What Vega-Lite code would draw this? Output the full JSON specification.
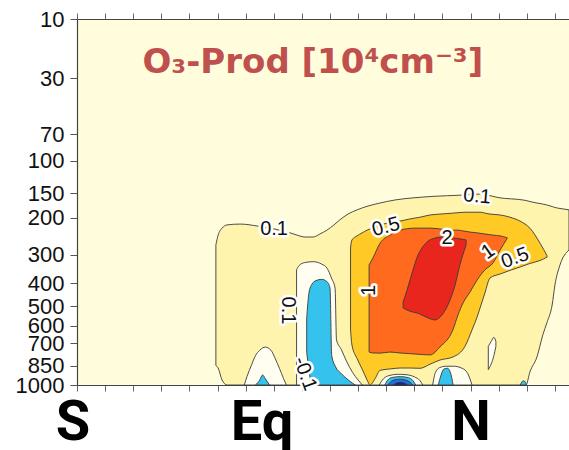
{
  "$schema": "https://vega.github.io/schema/vega-lite/v6.json",
  "width": 492,
  "height": 366,
  "autosize": {"type": "none"},
  "padding": {"left": 77, "top": 19, "right": 0, "bottom": 65},
  "background": "#ffffff",
  "config": {"view": {"stroke": null, "fill": "#FFFDDC"}, "axis": {"grid": false}},
  "datasets": {
    "areas": [
      {"reg": "L1", "lat": -40.6, "top": 270, "bot": 850},
      {"reg": "L1", "lat": -39.8, "top": 243, "bot": 868},
      {"reg": "L1", "lat": -38.4, "top": 225, "bot": 960},
      {"reg": "L1", "lat": -36.6, "top": 217, "bot": 1000},
      {"reg": "L1", "lat": -32, "top": 215, "bot": 1000},
      {"reg": "L1", "lat": -25.6, "top": 220, "bot": 1000},
      {"reg": "L1", "lat": -19.9, "top": 227, "bot": 1000},
      {"reg": "L1", "lat": -14.2, "top": 237, "bot": 1000},
      {"reg": "L1", "lat": -11.7, "top": 243, "bot": 1000},
      {"reg": "L1", "lat": -8.9, "top": 248, "bot": 1000},
      {"reg": "L1", "lat": -6.1, "top": 248, "bot": 1000},
      {"reg": "L1", "lat": -3.6, "top": 240, "bot": 1000},
      {"reg": "L1", "lat": -1.1, "top": 230, "bot": 1000},
      {"reg": "L1", "lat": 1.4, "top": 217, "bot": 1000},
      {"reg": "L1", "lat": 3.5, "top": 205, "bot": 1000},
      {"reg": "L1", "lat": 6.4, "top": 192, "bot": 1000},
      {"reg": "L1", "lat": 9.6, "top": 183, "bot": 1000},
      {"reg": "L1", "lat": 13.5, "top": 175, "bot": 1000},
      {"reg": "L1", "lat": 17.8, "top": 169, "bot": 1000},
      {"reg": "L1", "lat": 23.1, "top": 163, "bot": 1000},
      {"reg": "L1", "lat": 29.5, "top": 159, "bot": 1000},
      {"reg": "L1", "lat": 37.3, "top": 156, "bot": 1000},
      {"reg": "L1", "lat": 46.2, "top": 154, "bot": 1000},
      {"reg": "L1", "lat": 53.3, "top": 152, "bot": 1000},
      {"reg": "L1", "lat": 60.5, "top": 159, "bot": 1000},
      {"reg": "L1", "lat": 68.6, "top": 163, "bot": 1000},
      {"reg": "L1", "lat": 69.7, "top": 164, "bot": 1000},
      {"reg": "L1", "lat": 71.1, "top": 166, "bot": 897},
      {"reg": "L1", "lat": 73.6, "top": 169, "bot": 790},
      {"reg": "L1", "lat": 75.7, "top": 171, "bot": 650},
      {"reg": "L1", "lat": 77.2, "top": 173, "bot": 580},
      {"reg": "L1", "lat": 79, "top": 176, "bot": 494},
      {"reg": "L1", "lat": 80, "top": 178, "bot": 407},
      {"reg": "L1", "lat": 81.8, "top": 180, "bot": 333},
      {"reg": "L1", "lat": 85, "top": 183, "bot": 285},

      {"reg": "HA", "lat": -11.9, "top": 350, "bot": 1000},
      {"reg": "HA", "lat": -11, "top": 335, "bot": 1000},
      {"reg": "HA", "lat": -9, "top": 325, "bot": 1000},
      {"reg": "HA", "lat": -6, "top": 322, "bot": 1000},
      {"reg": "HA", "lat": -3, "top": 330, "bot": 1000},
      {"reg": "HA", "lat": -1, "top": 345, "bot": 1000},
      {"reg": "HA", "lat": 0.5, "top": 380, "bot": 1000},
      {"reg": "HA", "lat": 1.8, "top": 420, "bot": 1000},
      {"reg": "HA", "lat": 2.3, "top": 680, "bot": 1000},
      {"reg": "HA", "lat": 4, "top": 740, "bot": 1000},
      {"reg": "HA", "lat": 6, "top": 825, "bot": 1000},
      {"reg": "HA", "lat": 8, "top": 900, "bot": 1000},
      {"reg": "HA", "lat": 10, "top": 960, "bot": 1000},
      {"reg": "HA", "lat": 11.5, "top": 1000, "bot": 1000},

      {"reg": "CA", "lat": -8.3, "top": 560, "bot": 760},
      {"reg": "CA", "lat": -7.5, "top": 440, "bot": 880},
      {"reg": "CA", "lat": -6.5, "top": 405, "bot": 1000},
      {"reg": "CA", "lat": -5, "top": 390, "bot": 1000},
      {"reg": "CA", "lat": -3, "top": 385, "bot": 1000},
      {"reg": "CA", "lat": -1, "top": 395, "bot": 1000},
      {"reg": "CA", "lat": 0, "top": 420, "bot": 1000},
      {"reg": "CA", "lat": 0.6, "top": 780, "bot": 1000},
      {"reg": "CA", "lat": 2, "top": 860, "bot": 1000},
      {"reg": "CA", "lat": 4, "top": 910, "bot": 1000},
      {"reg": "CA", "lat": 6, "top": 950, "bot": 1000},
      {"reg": "CA", "lat": 8, "top": 985, "bot": 1000},
      {"reg": "CA", "lat": 9, "top": 1000, "bot": 1000},

      {"reg": "HB", "lat": -30.5, "top": 1000, "bot": 1000},
      {"reg": "HB", "lat": -29.5, "top": 930, "bot": 1000},
      {"reg": "HB", "lat": -28, "top": 850, "bot": 1000},
      {"reg": "HB", "lat": -26.5, "top": 780, "bot": 1000},
      {"reg": "HB", "lat": -25, "top": 745, "bot": 1000},
      {"reg": "HB", "lat": -23, "top": 725, "bot": 1000},
      {"reg": "HB", "lat": -21, "top": 745, "bot": 1000},
      {"reg": "HB", "lat": -19.5, "top": 800, "bot": 1000},
      {"reg": "HB", "lat": -18, "top": 870, "bot": 1000},
      {"reg": "HB", "lat": -16.5, "top": 950, "bot": 1000},
      {"reg": "HB", "lat": -15.5, "top": 1000, "bot": 1000},

      {"reg": "CB", "lat": -26.5, "top": 1000, "bot": 1000},
      {"reg": "CB", "lat": -25, "top": 960, "bot": 1000},
      {"reg": "CB", "lat": -24, "top": 920, "bot": 1000},
      {"reg": "CB", "lat": -23, "top": 950, "bot": 1000},
      {"reg": "CB", "lat": -21.5, "top": 1000, "bot": 1000},

      {"reg": "L2", "lat": 7.3, "top": 276, "bot": 622},
      {"reg": "L2", "lat": 7.8, "top": 256, "bot": 712},
      {"reg": "L2", "lat": 9.6, "top": 245, "bot": 800},
      {"reg": "L2", "lat": 11.4, "top": 237, "bot": 875},
      {"reg": "L2", "lat": 13.2, "top": 230, "bot": 960},
      {"reg": "L2", "lat": 14.2, "top": 227, "bot": 1000},
      {"reg": "L2", "lat": 16, "top": 222, "bot": 950},
      {"reg": "L2", "lat": 17.8, "top": 217, "bot": 885},
      {"reg": "L2", "lat": 21.3, "top": 212, "bot": 875},
      {"reg": "L2", "lat": 24.9, "top": 208, "bot": 868},
      {"reg": "L2", "lat": 28.4, "top": 203, "bot": 868},
      {"reg": "L2", "lat": 32, "top": 199, "bot": 870},
      {"reg": "L2", "lat": 35.6, "top": 194, "bot": 840},
      {"reg": "L2", "lat": 39.1, "top": 192, "bot": 811},
      {"reg": "L2", "lat": 43.7, "top": 190, "bot": 790},
      {"reg": "L2", "lat": 48, "top": 188, "bot": 720},
      {"reg": "L2", "lat": 50.5, "top": 188, "bot": 622},
      {"reg": "L2", "lat": 52.3, "top": 188, "bot": 553},
      {"reg": "L2", "lat": 53.7, "top": 188, "bot": 494},
      {"reg": "L2", "lat": 55.1, "top": 190, "bot": 440},
      {"reg": "L2", "lat": 56.9, "top": 192, "bot": 380},
      {"reg": "L2", "lat": 60.5, "top": 194, "bot": 365},
      {"reg": "L2", "lat": 64, "top": 199, "bot": 352},
      {"reg": "L2", "lat": 67.6, "top": 208, "bot": 340},
      {"reg": "L2", "lat": 71.1, "top": 225, "bot": 328},
      {"reg": "L2", "lat": 74.7, "top": 265, "bot": 318},
      {"reg": "L2", "lat": 77.2, "top": 303, "bot": 307},

      {"reg": "L3", "lat": 13.9, "top": 333, "bot": 757},
      {"reg": "L3", "lat": 15.3, "top": 309, "bot": 763},
      {"reg": "L3", "lat": 17.8, "top": 265, "bot": 764},
      {"reg": "L3", "lat": 21.3, "top": 243, "bot": 757},
      {"reg": "L3", "lat": 24.9, "top": 230, "bot": 763},
      {"reg": "L3", "lat": 30.2, "top": 225, "bot": 770},
      {"reg": "L3", "lat": 35.6, "top": 225, "bot": 776},
      {"reg": "L3", "lat": 39.1, "top": 227, "bot": 724},
      {"reg": "L3", "lat": 43.7, "top": 230, "bot": 622},
      {"reg": "L3", "lat": 45.5, "top": 230, "bot": 543},
      {"reg": "L3", "lat": 47.3, "top": 232, "bot": 485},
      {"reg": "L3", "lat": 49.8, "top": 235, "bot": 436},
      {"reg": "L3", "lat": 52.3, "top": 237, "bot": 388},
      {"reg": "L3", "lat": 55.1, "top": 240, "bot": 350},
      {"reg": "L3", "lat": 58, "top": 243, "bot": 326},
      {"reg": "L3", "lat": 60.5, "top": 245, "bot": 285},
      {"reg": "L3", "lat": 63, "top": 250, "bot": 252},

      {"reg": "L4", "lat": 26, "top": 480, "bot": 508},
      {"reg": "L4", "lat": 27.4, "top": 428, "bot": 518},
      {"reg": "L4", "lat": 29.5, "top": 351, "bot": 528},
      {"reg": "L4", "lat": 31, "top": 307, "bot": 533},
      {"reg": "L4", "lat": 32.7, "top": 279, "bot": 543},
      {"reg": "L4", "lat": 34.9, "top": 259, "bot": 558},
      {"reg": "L4", "lat": 37.3, "top": 251, "bot": 568},
      {"reg": "L4", "lat": 39.8, "top": 248, "bot": 543},
      {"reg": "L4", "lat": 42.7, "top": 251, "bot": 471},
      {"reg": "L4", "lat": 44.5, "top": 251, "bot": 407},
      {"reg": "L4", "lat": 46.2, "top": 253, "bot": 333},
      {"reg": "L4", "lat": 48.4, "top": 256, "bot": 270},

      {"reg": "RW", "lat": 17.5, "top": 1000, "bot": 1000},
      {"reg": "RW", "lat": 19, "top": 950, "bot": 1000},
      {"reg": "RW", "lat": 21, "top": 925, "bot": 1000},
      {"reg": "RW", "lat": 24, "top": 915, "bot": 1000},
      {"reg": "RW", "lat": 27, "top": 918, "bot": 1000},
      {"reg": "RW", "lat": 30, "top": 935, "bot": 1000},
      {"reg": "RW", "lat": 32, "top": 965, "bot": 1000},
      {"reg": "RW", "lat": 33, "top": 1000, "bot": 1000},

      {"reg": "RC", "lat": 19.5, "top": 1000, "bot": 1000},
      {"reg": "RC", "lat": 20.5, "top": 960, "bot": 1000},
      {"reg": "RC", "lat": 22, "top": 940, "bot": 1000},
      {"reg": "RC", "lat": 25, "top": 933, "bot": 1000},
      {"reg": "RC", "lat": 28, "top": 942, "bot": 1000},
      {"reg": "RC", "lat": 29.5, "top": 965, "bot": 1000},
      {"reg": "RC", "lat": 30.5, "top": 1000, "bot": 1000},

      {"reg": "RB", "lat": 20.5, "top": 1000, "bot": 1000},
      {"reg": "RB", "lat": 21.5, "top": 975, "bot": 1000},
      {"reg": "RB", "lat": 23, "top": 958, "bot": 1000},
      {"reg": "RB", "lat": 25, "top": 953, "bot": 1000},
      {"reg": "RB", "lat": 27, "top": 960, "bot": 1000},
      {"reg": "RB", "lat": 28.5, "top": 978, "bot": 1000},
      {"reg": "RB", "lat": 29.5, "top": 1000, "bot": 1000},

      {"reg": "RN", "lat": 22.5, "top": 1000, "bot": 1000},
      {"reg": "RN", "lat": 23.5, "top": 985, "bot": 1000},
      {"reg": "RN", "lat": 25, "top": 978, "bot": 1000},
      {"reg": "RN", "lat": 26.5, "top": 985, "bot": 1000},
      {"reg": "RN", "lat": 27.5, "top": 1000, "bot": 1000},

      {"reg": "HD", "lat": 36.5, "top": 1000, "bot": 1000},
      {"reg": "HD", "lat": 37.5, "top": 900, "bot": 1000},
      {"reg": "HD", "lat": 39, "top": 865, "bot": 1000},
      {"reg": "HD", "lat": 41, "top": 855, "bot": 1000},
      {"reg": "HD", "lat": 44, "top": 855, "bot": 1000},
      {"reg": "HD", "lat": 47, "top": 870, "bot": 1000},
      {"reg": "HD", "lat": 49, "top": 910, "bot": 1000},
      {"reg": "HD", "lat": 50.5, "top": 1000, "bot": 1000},

      {"reg": "CD", "lat": 38.5, "top": 1000, "bot": 1000},
      {"reg": "CD", "lat": 39.5, "top": 920, "bot": 1000},
      {"reg": "CD", "lat": 40.5, "top": 875, "bot": 1000},
      {"reg": "CD", "lat": 41.8, "top": 870, "bot": 1000},
      {"reg": "CD", "lat": 42.8, "top": 900, "bot": 1000},
      {"reg": "CD", "lat": 43.8, "top": 1000, "bot": 1000},

      {"reg": "SL", "lat": 56.3, "top": 720, "bot": 880},
      {"reg": "SL", "lat": 57.3, "top": 690, "bot": 840},
      {"reg": "SL", "lat": 58.3, "top": 665, "bot": 780},
      {"reg": "SL", "lat": 59, "top": 690, "bot": 720},

      {"reg": "CE", "lat": 67.6, "top": 1000, "bot": 1000},
      {"reg": "CE", "lat": 68.8, "top": 965, "bot": 1000},
      {"reg": "CE", "lat": 70, "top": 1000, "bot": 1000}
    ],
    "labels": [
      {"kind": "c", "t": "0.1", "lat": -19.9, "top": 227, "ang": 0},
      {"kind": "c", "t": "0.1", "lat": 52.3, "top": 156, "ang": 5},
      {"kind": "c", "t": "0.5", "lat": 19.9, "top": 222, "ang": 345},
      {"kind": "c", "t": "2", "lat": 41.6, "top": 250, "ang": 0},
      {"kind": "c", "t": "1", "lat": 56.2, "top": 290, "ang": 325},
      {"kind": "c", "t": "0.5", "lat": 65.8, "top": 310, "ang": 340},
      {"kind": "c", "t": "1", "lat": 13.9, "top": 430, "ang": 270},
      {"kind": "c", "t": "0.1", "lat": -15, "top": 520, "ang": 90},
      {"kind": "c", "t": "-0.1", "lat": -8.9, "top": 910, "ang": 70},
      {"kind": "title", "t": "O₃-Prod [10⁴cm⁻³]", "lat": -6.1, "top": 27.4, "ang": 0},
      {"kind": "sen", "t": "S", "lat": -91.4, "top": 1540, "ang": 0},
      {"kind": "sen", "t": "Eq", "lat": -24.2, "top": 1540, "ang": 0},
      {"kind": "sen", "t": "N", "lat": 50.1, "top": 1540, "ang": 0}
    ]
  },
  "resolve": {"axis": {"x": "independent"}},
  "layer": [
    {
      "data": {"name": "areas"},
      "encoding": {
        "x": {
          "field": "lat", "type": "quantitative",
          "scale": {"domain": [-90, 85], "nice": false, "zero": false},
          "axis": {"orient": "bottom", "values": [-90, -80, -70, -60, -50, -40, -30, -20, -10, 0, 10, 20, 30, 40, 50, 60, 70, 80], "labels": false, "tickSize": 6, "tickColor": "#666666", "domainColor": "#444444", "domainWidth": 1.2, "title": null, "grid": false}
        },
        "y": {
          "field": "top", "type": "quantitative",
          "scale": {"type": "pow", "exponent": 0.2, "domain": [10, 1000], "reverse": true, "nice": false, "zero": false},
          "axis": {"orient": "left", "values": [10, 30, 70, 100, 150, 200, 300, 400, 500, 600, 700, 850, 1000], "format": "d", "labelFont": "Liberation Sans", "labelFontSize": 22, "labelColor": "#111111", "tickSize": 7, "labelPadding": 6, "tickColor": "#555555", "domainColor": "#444444", "domainWidth": 1.2, "title": null, "labelOverlap": false, "labelFlush": false, "grid": false}
        },
        "y2": {"field": "bot"}
      },
      "layer": [
        {"transform": [{"filter": "datum.reg === 'L1'"}], "mark": {"type": "area", "interpolate": "monotone", "fill": "#FFF4AE", "stroke": "#3a3a3a", "strokeWidth": 0.9}},
        {"transform": [{"filter": "datum.reg === 'HA'"}], "mark": {"type": "area", "interpolate": "monotone", "fill": "#FFFEF0", "stroke": "#3a3a3a", "strokeWidth": 0.9}},
        {"transform": [{"filter": "datum.reg === 'CA'"}], "mark": {"type": "area", "interpolate": "monotone", "fill": "#35C3EE", "stroke": "#3a3a3a", "strokeWidth": 0.9}},
        {"transform": [{"filter": "datum.reg === 'HB'"}], "mark": {"type": "area", "interpolate": "monotone", "fill": "#FFFEF0", "stroke": "#3a3a3a", "strokeWidth": 0.9}},
        {"transform": [{"filter": "datum.reg === 'CB'"}], "mark": {"type": "area", "interpolate": "monotone", "fill": "#35C3EE", "stroke": "#3a3a3a", "strokeWidth": 0.9}},
        {"transform": [{"filter": "datum.reg === 'L2'"}], "mark": {"type": "area", "interpolate": "monotone", "fill": "#FFC926", "stroke": "#3a3a3a", "strokeWidth": 0.9}},
        {"transform": [{"filter": "datum.reg === 'L3'"}], "mark": {"type": "area", "interpolate": "monotone", "fill": "#FF6A1E", "stroke": "#3a3a3a", "strokeWidth": 0.9}},
        {"transform": [{"filter": "datum.reg === 'L4'"}], "mark": {"type": "area", "interpolate": "monotone", "fill": "#E8261E", "stroke": "#3a3a3a", "strokeWidth": 0.9}},
        {"transform": [{"filter": "datum.reg === 'RW'"}], "mark": {"type": "area", "interpolate": "monotone", "fill": "#FFFEF0", "stroke": "#3a3a3a", "strokeWidth": 0.9}},
        {"transform": [{"filter": "datum.reg === 'RC'"}], "mark": {"type": "area", "interpolate": "monotone", "fill": "#35C3EE", "stroke": "#3a3a3a", "strokeWidth": 0.9}},
        {"transform": [{"filter": "datum.reg === 'RB'"}], "mark": {"type": "area", "interpolate": "monotone", "fill": "#1F6FE0", "stroke": "#3a3a3a", "strokeWidth": 0.9}},
        {"transform": [{"filter": "datum.reg === 'RN'"}], "mark": {"type": "area", "interpolate": "monotone", "fill": "#0B2299", "stroke": "#3a3a3a", "strokeWidth": 0.9}},
        {"transform": [{"filter": "datum.reg === 'HD'"}], "mark": {"type": "area", "interpolate": "monotone", "fill": "#FFFEF0", "stroke": "#3a3a3a", "strokeWidth": 0.9}},
        {"transform": [{"filter": "datum.reg === 'CD'"}], "mark": {"type": "area", "interpolate": "monotone", "fill": "#35C3EE", "stroke": "#3a3a3a", "strokeWidth": 0.9}},
        {"transform": [{"filter": "datum.reg === 'SL'"}], "mark": {"type": "area", "interpolate": "monotone", "fill": "#FFFEF0", "stroke": "#3a3a3a", "strokeWidth": 0.9}},
        {"transform": [{"filter": "datum.reg === 'CE'"}], "mark": {"type": "area", "interpolate": "monotone", "fill": "#35C3EE", "stroke": "#3a3a3a", "strokeWidth": 0.9}}
      ]
    },
    {
      "data": {"name": "labels"},
      "encoding": {
        "x": {
          "field": "lat", "type": "quantitative",
          "scale": {"domain": [-90, 85], "nice": false, "zero": false},
          "axis": {"orient": "top", "values": [-90, -80, -70, -60, -50, -40, -30, -20, -10, 0, 10, 20, 30, 40, 50, 60, 70, 80], "labels": false, "tickSize": 6, "tickColor": "#666666", "domainColor": "#444444", "domainWidth": 1.2, "title": null, "grid": false}
        },
        "y": {
          "field": "top", "type": "quantitative",
          "scale": {"type": "pow", "exponent": 0.2, "domain": [10, 1000], "reverse": true, "nice": false, "zero": false},
          "axis": {"orient": "left", "values": [10, 30, 70, 100, 150, 200, 300, 400, 500, 600, 700, 850, 1000], "format": "d", "labelFont": "Liberation Sans", "labelFontSize": 22, "labelColor": "#111111", "tickSize": 7, "labelPadding": 6, "tickColor": "#555555", "domainColor": "#444444", "domainWidth": 1.2, "title": null, "labelOverlap": false, "labelFlush": false, "grid": false}
        },
        "text": {"field": "t", "type": "nominal"},
        "angle": {"field": "ang", "type": "quantitative", "scale": null}
      },
      "layer": [
        {"transform": [{"filter": "datum.kind === 'c'"}], "mark": {"type": "text", "font": "Liberation Sans", "fontSize": 20, "align": "center", "baseline": "middle", "fill": "#ffffff", "stroke": "#ffffff", "strokeWidth": 5, "strokeJoin": "round"}},
        {"transform": [{"filter": "datum.kind === 'c'"}], "mark": {"type": "text", "font": "Liberation Sans", "fontSize": 20, "align": "center", "baseline": "middle", "fill": "#111111"}},
        {"transform": [{"filter": "datum.kind === 'title'"}], "mark": {"type": "text", "font": "DejaVu Sans", "fontSize": 34, "fontWeight": "bold", "align": "center", "baseline": "alphabetic", "fill": "#C0504D"}},
        {"transform": [{"filter": "datum.kind === 'sen'"}], "mark": {"type": "text", "font": "Liberation Sans Narrow, Roboto", "fontSize": 56, "fontWeight": "bold", "align": "center", "baseline": "alphabetic", "fill": "#000000"}}
      ]
    }
  ]
}
